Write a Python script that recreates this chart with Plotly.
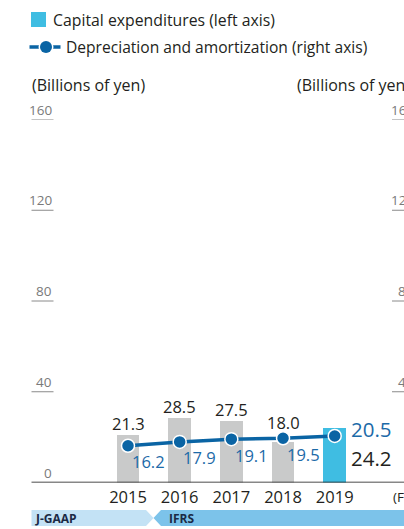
import plotly.graph_objects as go

# ---- data -------------------------------------------------------------
years = [2015, 2016, 2017, 2018, 2019]
year_labels = ["2015", "2016", "2017", "2018", "2019"]
capex = [21.3, 28.5, 27.5, 18.0, 24.2]          # left axis, billions of yen
depreciation = [16.2, 17.9, 19.1, 19.5, 20.5]   # right axis, billions of yen
y_ticks = [0, 40, 80, 120, 160]
standards = ["J-GAAP", "IFRS"]

# ---- page geometry ---------------------------------------------------
W, H = 404, 529
Y0_PX, Y160_PX = 482.5, 119.5        # pixel rows of 0 and 160
X_FIRST_PX, X_STEP_PX = 128.0, 51.675

def px(x):
    return x / W

def py(y):
    return 1 - y / H

x_lo = years[0] - X_FIRST_PX / X_STEP_PX
x_hi = x_lo + W / X_STEP_PX

GRAY_BAR = "#c9caca"
CYAN = "#3fbde2"
LINE_BLUE = "#0a64a4"
LABEL_BLUE = "#1c6aa8"
INK = "#231f20"
TICK_GRAY = "#7a7a7a"
FONT = "Open Sans"

bar_colors = [GRAY_BAR] * (len(years) - 1) + [CYAN]

fig = go.Figure()
fig.add_trace(go.Bar(
    x=years, y=capex, width=0.44, marker=dict(color=bar_colors, line_width=0),
    yaxis="y", showlegend=False, hoverinfo="skip",
))
fig.add_trace(go.Scatter(
    x=years, y=depreciation, yaxis="y2", mode="lines+markers",
    line=dict(color=LINE_BLUE, width=3.5),
    marker=dict(size=13, color=LINE_BLUE, line=dict(color="white", width=1.5)),
    showlegend=False, hoverinfo="skip",
))

annotations = []
shapes = []

# value labels for capital expenditures
for i, (yr, v) in enumerate(zip(years, capex)):
    if i == len(years) - 1:
        annotations.append(dict(
            x=yr, y=v, xref="x", yref="y", text=f"{v:.1f}", showarrow=False,
            xanchor="left", yanchor="middle", xshift=14, yshift=-30,
            font=dict(family=FONT, size=20.5, color=INK)))
    else:
        annotations.append(dict(
            x=yr, y=v, xref="x", yref="y", text=f"{v:.1f}", showarrow=False,
            xanchor="center", yanchor="middle", yshift=19 if i == 3 else 11,
            font=dict(family=FONT, size=16.5, color=INK)))

# value labels for depreciation and amortization
for i, (yr, v) in enumerate(zip(years, depreciation)):
    if i == len(years) - 1:
        annotations.append(dict(
            x=yr, y=v, xref="x", yref="y2", text=f"{v:.1f}", showarrow=False,
            xanchor="left", yanchor="middle", xshift=14, yshift=7,
            font=dict(family=FONT, size=20.5, color=LABEL_BLUE)))
    else:
        annotations.append(dict(
            x=yr, y=v, xref="x", yref="y2", text=f"{v:.1f}", showarrow=False,
            xanchor="center", yanchor="middle", xshift=20, yshift=-16,
            font=dict(family=FONT, size=16.5, color=LABEL_BLUE)))

# axis tick labels with short rules beneath them
for t in y_ticks:
    annotations.append(dict(
        x=px(53.5), y=t, xref="paper", yref="y", text=str(t), showarrow=False,
        xanchor="right", yanchor="middle", yshift=10,
        font=dict(family=FONT, size=13.5, color=TICK_GRAY)))
    annotations.append(dict(
        x=px(416), y=t, xref="paper", yref="y", text=str(t), showarrow=False,
        xanchor="right", yanchor="middle", yshift=10,
        font=dict(family=FONT, size=13.5, color=TICK_GRAY)))
    if t > 0:
        shapes.append(dict(type="line", xref="paper", yref="y",
                           x0=px(31.5), x1=px(53.5), y0=t, y1=t,
                           line=dict(color="#8a8a8a", width=1)))
        shapes.append(dict(type="line", xref="paper", yref="y",
                           x0=px(392), x1=px(416), y0=t, y1=t,
                           line=dict(color="#8a8a8a", width=1)))

# baseline
shapes.append(dict(type="line", xref="paper", yref="y", x0=px(31.5), x1=1,
                   y0=0, y1=0, line=dict(color="#111111", width=1.5)))

# unit captions
annotations.append(dict(x=px(30), y=py(85), xref="paper", yref="paper",
                        text="(Billions of yen)", showarrow=False,
                        xanchor="left", yanchor="middle",
                        font=dict(family=FONT, size=16, color=INK)))
annotations.append(dict(x=px(295), y=py(85), xref="paper", yref="paper",
                        text="(Billions of yen)", showarrow=False,
                        xanchor="left", yanchor="middle",
                        font=dict(family=FONT, size=16, color=INK)))
annotations.append(dict(x=px(391), y=py(497), xref="paper", yref="paper",
                        text="(FY)", showarrow=False,
                        xanchor="left", yanchor="middle",
                        font=dict(family=FONT, size=13.5, color=INK)))

# legend
shapes.append(dict(type="rect", xref="paper", yref="paper",
                   x0=px(31), x1=px(46), y0=py(12), y1=py(27),
                   fillcolor=CYAN, line_width=0))
annotations.append(dict(x=px(51), y=py(19.5), xref="paper", yref="paper",
                        text="Capital expenditures (left axis)", showarrow=False,
                        xanchor="left", yanchor="middle",
                        font=dict(family=FONT, size=15.8, color=INK)))
shapes.append(dict(type="line", xref="paper", yref="paper",
                   x0=px(29.5), x1=px(60.5), y0=py(47), y1=py(47),
                   line=dict(color=LINE_BLUE, width=3.5)))
shapes.append(dict(type="circle", xref="paper", yref="paper",
                   x0=px(38.5), x1=px(53.5), y0=py(39.5), y1=py(54.5),
                   fillcolor="white", line_width=0))
shapes.append(dict(type="circle", xref="paper", yref="paper",
                   x0=px(40), x1=px(52), y0=py(41), y1=py(53),
                   fillcolor=LINE_BLUE, line_width=0))
annotations.append(dict(x=px(64), y=py(47.5), xref="paper", yref="paper",
                        text="Depreciation and amortization (right axis)",
                        showarrow=False, xanchor="left", yanchor="middle",
                        font=dict(family=FONT, size=15.6, color=INK)))

# accounting-standard band
def path(points):
    return "M " + " L ".join(f"{px(a)},{py(b)}" for a, b in points) + " Z"

shapes.append(dict(type="path", xref="paper", yref="paper",
                   path=path([(31.5, 510), (146, 510), (153.5, 518),
                              (146, 526), (31.5, 526)]),
                   fillcolor="#c3e2f5", line_width=0))
shapes.append(dict(type="path", xref="paper", yref="paper",
                   path=path([(161, 510), (404, 510), (404, 526),
                              (161, 526), (153.5, 518)]),
                   fillcolor="#7cc3ea", line_width=0))
annotations.append(dict(x=px(33), y=py(518.5), xref="paper", yref="paper",
                        text=f"<b>{standards[0]}</b>", showarrow=False,
                        xanchor="left", yanchor="middle",
                        font=dict(family=FONT, size=12, color="#1b2a45")))
annotations.append(dict(x=px(167), y=py(518.5), xref="paper", yref="paper",
                        text=f"<b>{standards[1]}</b>", showarrow=False,
                        xanchor="left", yanchor="middle",
                        font=dict(family=FONT, size=12, color="#1b2a45")))

fig.update_layout(
    width=W, height=H,
    margin=dict(l=0, r=0, t=0, b=0),
    paper_bgcolor="white", plot_bgcolor="white",
    showlegend=False,
    xaxis=dict(range=[x_lo, x_hi], domain=[0, 1], tickmode="array",
               tickvals=years, ticktext=year_labels, ticks="",
               showline=False, showgrid=False, zeroline=False,
               ticklabelstandoff=3,
               tickfont=dict(family=FONT, size=16.5, color=INK)),
    yaxis=dict(range=[0, 160], domain=[py(Y0_PX), py(Y160_PX)],
               showticklabels=False, showgrid=False, zeroline=False,
               showline=False),
    yaxis2=dict(range=[0, 160], overlaying="y", side="right",
                showticklabels=False, showgrid=False, zeroline=False,
                showline=False),
    annotations=annotations,
    shapes=shapes,
    bargap=0,
)

fig.write_html("out.html")
